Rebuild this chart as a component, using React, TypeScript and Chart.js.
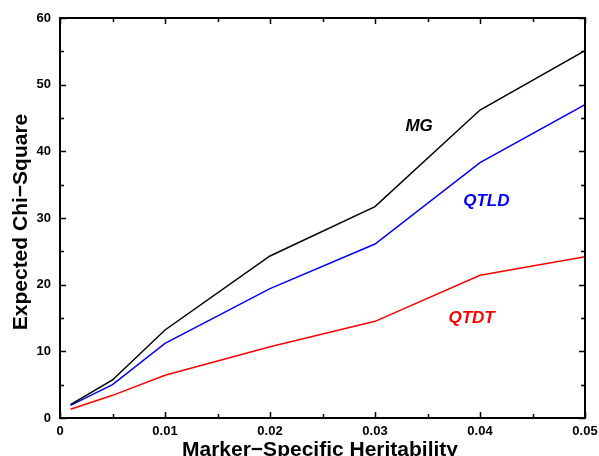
import React, { useEffect, useRef } from "react";
import { Chart, registerables } from "chart.js";

Chart.register(...registerables);

const heritability = [0.001, 0.005, 0.01, 0.02, 0.03, 0.04, 0.05];
const mgValues = [2.0, 5.7, 13.2, 24.3, 31.7, 46.2, 55.1];
const qtldValues = [1.9, 5.0, 11.2, 19.4, 26.1, 38.3, 47.0];
const qtdtValues = [1.3, 3.4, 6.4, 10.7, 14.5, 21.4, 24.2];

const seriesNames = ["MG", "QTLD", "QTDT"];
const seriesColors = ["#000000", "#0000ff", "#ff0000"];
// label anchor positions in data coordinates [x, y]
const labelPositions = [
  [0.0342, 43.8],
  [0.0406, 32.5],
  [0.0392, 15.0],
];

const xTitle = "Marker\u2212Specific Heritability";
const yTitle = "Expected Chi\u2212Square";

const framePlugin = {
  id: "frameTicks",
  afterDraw(chart: any) {
    const { ctx, chartArea } = chart;
    const { left, right, top, bottom } = chartArea;
    const xs = chart.scales.x;
    const ys = chart.scales.y;
    ctx.save();
    ctx.strokeStyle = "#000";
    // ticks
    ctx.lineWidth = 1.5;
    for (let v = 0; v <= 60.001; v += 5) {
      const py = Math.round(ys.getPixelForValue(v)) + 0.5;
      const len = Math.round(v) % 10 === 0 ? 6 : 4;
      ctx.beginPath();
      ctx.moveTo(left, py);
      ctx.lineTo(left + len, py);
      ctx.moveTo(right, py);
      ctx.lineTo(right - len, py);
      ctx.stroke();
    }
    for (let i = 0; i <= 10; i++) {
      const v = i * 0.005;
      const px = Math.round(xs.getPixelForValue(v)) + 0.5;
      const len = i % 2 === 0 ? 6 : 4;
      ctx.beginPath();
      ctx.moveTo(px, bottom);
      ctx.lineTo(px, bottom - len);
      ctx.moveTo(px, top);
      ctx.lineTo(px, top + len);
      ctx.stroke();
    }
    // frame
    ctx.lineWidth = 2;
    ctx.strokeRect(left, top, right - left, bottom - top);
    // series labels
    ctx.font = "italic bold 17px 'Liberation Sans', Arial, sans-serif";
    ctx.textAlign = "center";
    ctx.textBaseline = "middle";
    seriesNames.forEach((name, i) => {
      ctx.fillStyle = seriesColors[i];
      ctx.fillText(
        name,
        xs.getPixelForValue(labelPositions[i][0]),
        ys.getPixelForValue(labelPositions[i][1])
      );
    });
    // axis titles
    ctx.fillStyle = "#000";
    ctx.font = "bold 21px 'Liberation Sans', Arial, sans-serif";
    ctx.textAlign = "center";
    ctx.textBaseline = "alphabetic";
    ctx.fillText(xTitle, 320, 456);
    ctx.save();
    ctx.translate(27, 222);
    ctx.rotate(-Math.PI / 2);
    ctx.fillText(yTitle, 0, 0);
    ctx.restore();
    ctx.restore();
  },
};

export default function App() {
  const canvasRef = useRef<HTMLCanvasElement | null>(null);

  useEffect(() => {
    if (!canvasRef.current) return;
    const mk = (vals: number[]) => heritability.map((h, i) => ({ x: h, y: vals[i] }));
    const chart = new Chart(canvasRef.current, {
      type: "line",
      data: {
        datasets: [
          { label: seriesNames[0], data: mk(mgValues), borderColor: seriesColors[0], borderWidth: 1.5, pointRadius: 0, tension: 0, fill: false },
          { label: seriesNames[1], data: mk(qtldValues), borderColor: seriesColors[1], borderWidth: 1.5, pointRadius: 0, tension: 0, fill: false },
          { label: seriesNames[2], data: mk(qtdtValues), borderColor: seriesColors[2], borderWidth: 1.5, pointRadius: 0, tension: 0, fill: false },
        ],
      },
      options: {
        animation: false,
        responsive: false,
        maintainAspectRatio: false,
        layout: { padding: { top: 18, right: 14, left: 0, bottom: 0 } },
        plugins: { legend: { display: false }, tooltip: { enabled: false } },
        scales: {
          x: {
            type: "linear",
            min: 0,
            max: 0.05,
            grid: { display: false, drawTicks: false },
            border: { display: false },
            ticks: {
              stepSize: 0.01,
              padding: 6,
              color: "#000",
              font: { family: "'Liberation Sans', Arial, sans-serif", size: 13, weight: "bold" },
              callback: (v: any) => (Number(v) === 0 ? "0" : Number(v).toFixed(2)),
              maxRotation: 0,
            },
            afterFit: (s: any) => {
              s.height = 38;
              s.paddingLeft = 0;
              s.paddingRight = 0;
            },
          },
          y: {
            type: "linear",
            min: 0,
            max: 60,
            grid: { display: false, drawTicks: false },
            border: { display: false },
            ticks: {
              stepSize: 10,
              padding: 9,
              color: "#000",
              font: { family: "'Liberation Sans', Arial, sans-serif", size: 13, weight: "bold" },
            },
            afterFit: (s: any) => {
              s.width = 60;
              s.paddingTop = 0;
              s.paddingBottom = 0;
            },
          },
        },
      },
      plugins: [framePlugin],
    });
    return () => chart.destroy();
  }, []);

  return (
    <div style={{ position: "absolute", left: 0, top: 0, width: 599, height: 456, background: "#fff" }}>
      <canvas ref={canvasRef} width={599} height={456} />
    </div>
  );
}
